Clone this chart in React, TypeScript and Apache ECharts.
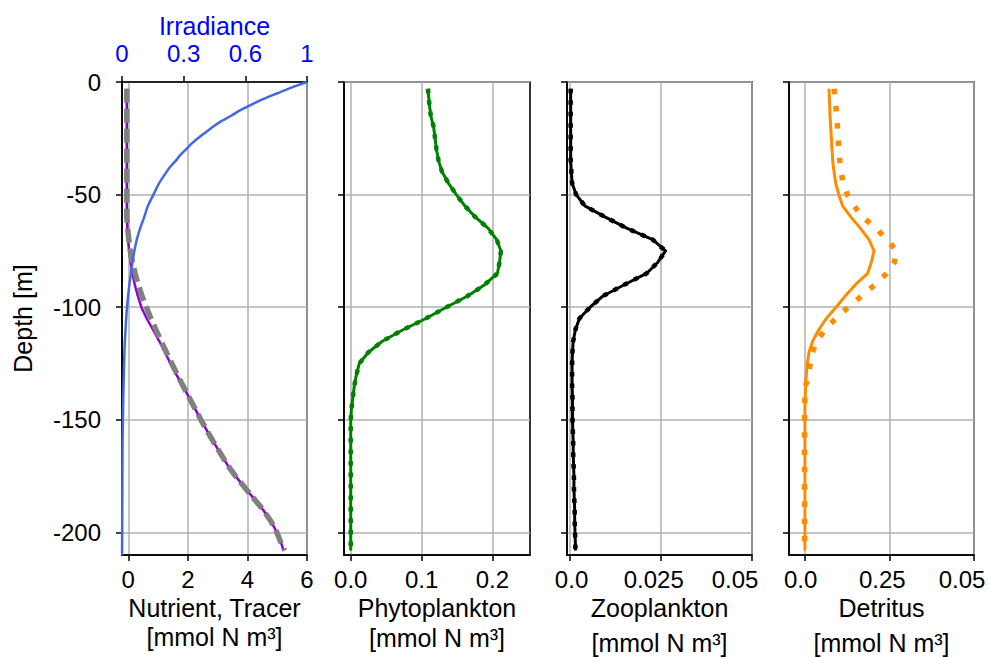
import React, { useEffect, useRef } from "react";
import * as echarts from "echarts";

// ---------- data ----------
const depth = [
  -3, -10, -15, -20, -25, -30, -35, -40, -45, -50, -55, -60, -65, -70, -75, -80, -85, -90, -95, -100,
  -105, -110, -115, -120, -125, -130, -135, -140, -145, -150, -155, -160, -165, -170, -175, -180, -185,
  -190, -195, -200, -205, -208,
];

const nutrient = [
  -0.05, -0.05, -0.05, -0.05, -0.05, -0.05, -0.05, -0.05, -0.05, -0.05, -0.05, -0.04, -0.03, -0.01, 0.03,
  0.08, 0.14, 0.22, 0.32, 0.44, 0.62, 0.83, 1.04, 1.23, 1.42, 1.62, 1.83, 2.04, 2.24, 2.44, 2.65, 2.87,
  3.1, 3.33, 3.6, 3.91, 4.22, 4.53, 4.79, 4.99, 5.14, 5.21,
];

const tracer = [
  -0.05, -0.05, -0.05, -0.05, -0.05, -0.05, -0.05, -0.05, -0.05, -0.05, -0.05, -0.05, -0.02, 0.02, 0.07,
  0.14, 0.23, 0.34, 0.46, 0.61, 0.76, 0.93, 1.1, 1.28, 1.46, 1.65, 1.84, 2.04, 2.24, 2.44, 2.65, 2.87,
  3.1, 3.33, 3.6, 3.91, 4.22, 4.53, 4.79, 4.99, 5.14, 5.25,
];

const phyto = [
  0.109, 0.111, 0.113, 0.117, 0.119, 0.121, 0.124, 0.129, 0.138, 0.149, 0.161, 0.176, 0.194, 0.206, 0.212,
  0.21, 0.207, 0.189, 0.165, 0.135, 0.106, 0.074, 0.045, 0.025, 0.012, 0.008, 0.005, 0.003, 0.001, 0, 0,
  0, 0, 0, 0, 0, 0, 0, 0, 0, 0, 0,
];

const zoo = [
  0.0003, 0.0003, 0.0003, 0.0003, 0.0003, 0.0003, 0.0003, 0.0005, 0.0007, 0.0018, 0.0042, 0.0098, 0.0158,
  0.0228, 0.0263, 0.0242, 0.0211, 0.015, 0.0092, 0.0056, 0.0027, 0.0016, 0.001, 0.0008, 0.0007, 0.0007,
  0.0007, 0.0008, 0.0008, 0.0008, 0.0009, 0.001, 0.001, 0.0011, 0.0012, 0.0012, 0.0013, 0.0014, 0.0014,
  0.0015, 0.0016, 0.0016,
];

const detritus = [
  0.072, 0.074, 0.075, 0.077, 0.079, 0.081, 0.083, 0.087, 0.092, 0.101, 0.112, 0.137, 0.165, 0.19, 0.205,
  0.197, 0.186, 0.15, 0.12, 0.093, 0.064, 0.042, 0.024, 0.013, 0.008, 0.005, 0.003, 0.002, 0.001, 0.001,
  0.001, 0.001, 0.001, 0.001, 0.001, 0.001, 0.001, 0.001, 0.001, 0.001, 0.001, 0.001,
];

const detritusTracer = [
  0.087, 0.092, 0.095, 0.097, 0.099, 0.101, 0.104, 0.108, 0.114, 0.126, 0.146, 0.172, 0.211, 0.243, 0.272,
  0.265, 0.242, 0.208, 0.168, 0.129, 0.092, 0.06, 0.036, 0.023, 0.017, 0.011, 0.003, 0.001, 0, 0, 0, 0, 0,
  0, 0, 0, 0, 0, 0, 0, 0, 0,
];

const irrDepth = [
  0, -2.5, -5, -7.5, -10, -12.5, -15, -17.5, -20, -22.5, -25, -27.5, -30, -32.5, -35, -37.5, -40, -45, -50,
  -55, -60, -65, -70, -75, -80, -90, -100, -110, -120, -140, -160, -180, -210,
];
const irradiance = [
  1.0, 0.915, 0.84, 0.765, 0.7, 0.64, 0.59, 0.535, 0.49, 0.45, 0.41, 0.375, 0.345, 0.315, 0.29, 0.262, 0.24,
  0.2, 0.17, 0.14, 0.12, 0.098, 0.08, 0.067, 0.057, 0.04, 0.027, 0.019, 0.013, 0.007, 0.003, 0.002, 0.0005,
];

// tick values and labels
const depthTicks = [0, -50, -100, -150, -200];
const depthTickLabels = ["0", "-50", "-100", "-150", "-200"];
const nutrientTicks = [0, 2, 4, 6];
const nutrientTickLabels = ["0", "2", "4", "6"];
const irrTicks = [0, 1 / 3, 2 / 3, 1];
const irrTickLabels = ["0", "0.3", "0.6", "1"];
const phytoTicks = [0, 0.1, 0.2];
const phytoTickLabels = ["0.0", "0.1", "0.2"];
const zooTicks = [0, 0.025, 0.05];
const zooTickLabels = ["0.0", "0.025", "0.05"];
const detTicks = [0, 0.25, 0.5];
const detTickLabels = ["0.0", "0.25", "0.05"];

// ---------- styles / layout ----------
const FONT = "'Liberation Sans', Arial, Helvetica, sans-serif";
const GRID_COLOR = "#b0b0b0";
const TICK_FS = 24;
const NAME_FS = 25;
const TOP = 82;
const HEIGHT = 473;
const panels = [
  { left: 122, width: 185 },
  { left: 344, width: 186 },
  { left: 567, width: 185 },
  { left: 789, width: 185 },
];

const nearestIdx = (ticks: number[], v: number) => {
  let best = 0;
  for (let i = 1; i < ticks.length; i++) {
    if (Math.abs(ticks[i] - v) < Math.abs(ticks[best] - v)) best = i;
  }
  return best;
};

const makeRich = (shifts: number[]) => {
  const rich: any = {};
  shifts.forEach((s, i) => {
    rich["s" + i] = {
      fontSize: TICK_FS,
      fontFamily: FONT,
      color: "#000",
      padding: [0, s < 0 ? -2 * s : 0, 0, s > 0 ? 2 * s : 0],
    };
  });
  return rich;
};

const xAxisBottom = (
  gridIndex: number,
  min: number,
  max: number,
  ticks: number[],
  labels: string[],
  name: string,
  nameGap: number,
  lineHeight: number,
  shifts?: number[]
) => ({
  type: "value",
  gridIndex,
  position: "bottom",
  min,
  max,
  axisLine: { show: true, onZero: false, lineStyle: { color: "#000", width: 1.6 } },
  axisTick: { show: true, inside: false, length: 6, customValues: ticks, lineStyle: { color: "#000", width: 1.5 } },
  axisLabel: {
    show: true,
    customValues: ticks,
    margin: 12,
    fontSize: TICK_FS,
    fontFamily: FONT,
    color: "#000",
    formatter: (v: number) => {
      const i = nearestIdx(ticks, v);
      return shifts ? `{s${i}|${labels[i]}}` : labels[i];
    },
    rich: shifts ? makeRich(shifts) : undefined,
  },
  splitLine: { show: true, lineStyle: { color: GRID_COLOR, width: 1.5 } },
  name,
  nameLocation: "middle",
  nameGap,
  nameMoveOverlap: false,
  nameTextStyle: { fontSize: NAME_FS, fontFamily: FONT, color: "#000", lineHeight },
});

const yAxisFor = (gridIndex: number, showLabels: boolean) => ({
  type: "value",
  gridIndex,
  min: -210,
  max: 0,
  axisLine: { show: true, onZero: false, lineStyle: { color: "#000", width: 1.6 } },
  axisTick: { show: true, inside: false, length: 6, customValues: depthTicks, lineStyle: { color: "#000", width: 1.5 } },
  axisLabel: {
    show: showLabels,
    customValues: depthTicks,
    margin: 21,
    fontSize: TICK_FS,
    fontFamily: FONT,
    color: "#000",
    formatter: (v: number) => depthTickLabels[nearestIdx(depthTicks, v)],
  },
  splitLine: { show: true, lineStyle: { color: GRID_COLOR, width: 1.5 } },
  ...(showLabels
    ? {
        name: "Depth [m]",
        nameLocation: "middle",
        nameGap: 87,
        nameMoveOverlap: false,
        nameTextStyle: { fontSize: NAME_FS, fontFamily: FONT, color: "#000" },
      }
    : {}),
});

const pairs = (vals: number[], ds: number[]) => ds.map((d, i) => [vals[i], d]);

const lineSeries = (xAxisIndex: number, yAxisIndex: number, data: number[][], lineStyle: any) => ({
  type: "line",
  xAxisIndex,
  yAxisIndex,
  data,
  symbol: "none",
  showSymbol: false,
  silent: true,
  lineStyle: { cap: "butt", join: "round", ...lineStyle },
});

export default function App() {
  const ref = useRef<HTMLDivElement>(null);
  useEffect(() => {
    if (!ref.current) return;
    const chart = echarts.init(ref.current, null, { renderer: "svg" });
    const option: any = {
      animation: false,
      backgroundColor: "#fff",
      textStyle: { fontFamily: FONT },
      grid: panels.map((p) => ({
        left: p.left,
        top: TOP,
        width: p.width,
        height: HEIGHT,
        show: true,
        borderColor: "#000",
        borderWidth: 1.6,
        backgroundColor: "transparent",
        containLabel: false,
        outerBoundsMode: "none",
      })),
      xAxis: [
        xAxisBottom(0, -0.21, 6, nutrientTicks, nutrientTickLabels, "Nutrient, Tracer\n[mmol N m³]", 38, 29),
        {
          type: "value",
          gridIndex: 0,
          position: "top",
          min: 0,
          max: 1,
          axisLine: { show: true, onZero: false, lineStyle: { color: "#000", width: 1.6 } },
          axisTick: { show: true, inside: false, length: 6, customValues: irrTicks, lineStyle: { color: "#000", width: 1.5 } },
          axisLabel: {
            show: true,
            customValues: irrTicks,
            margin: 17,
            fontSize: TICK_FS,
            fontFamily: FONT,
            color: "#0000ff",
            formatter: (v: number) => irrTickLabels[nearestIdx(irrTicks, v)],
          },
          splitLine: { show: false },
          name: "Irradiance",
          nameLocation: "middle",
          nameGap: 44,
          nameMoveOverlap: false,
          nameTextStyle: { fontSize: NAME_FS, fontFamily: FONT, color: "#0000ff" },
        },
        xAxisBottom(1, -0.0095, 0.253, phytoTicks, phytoTickLabels, "Phytoplankton\n[mmol N m³]", 38, 30),
        xAxisBottom(2, -0.0007, 0.05, zooTicks, zooTickLabels, "Zooplankton\n[mmol N m³]", 35, 35, [2, -7, -17]),
        xAxisBottom(3, -0.046, 0.5, detTicks, detTickLabels, "Detritus\n[mmol N m³]", 35, 35, [-4, -7, -12]),
      ],
      yAxis: [yAxisFor(0, true), yAxisFor(1, false), yAxisFor(2, false), yAxisFor(3, false)],
      series: [
        lineSeries(0, 0, pairs(nutrient, depth), { color: "#9400d3", width: 2.5 }),
        lineSeries(0, 0, pairs(tracer, depth), { color: "#808080", width: 5.5, type: [14, 6] }),
        { ...lineSeries(1, 0, pairs(irradiance, irrDepth), { color: "#4169e1", width: 2.5 }), smooth: 0.2 },
        lineSeries(2, 1, pairs(phyto, depth), { color: "#008000", width: 3 }),
        lineSeries(2, 1, pairs(phyto, depth), { color: "#008000", width: 4.5, type: [4.5, 7] }),
        lineSeries(3, 2, pairs(zoo, depth), { color: "#000000", width: 3 }),
        lineSeries(3, 2, pairs(zoo, depth), { color: "#000000", width: 4.5, type: [4.5, 7] }),
        lineSeries(4, 3, pairs(detritus, depth), { color: "#ff8c00", width: 3 }),
        lineSeries(4, 3, pairs(detritusTracer, depth), { color: "#ff8c00", width: 5.5, type: [5.5, 11.8] }),
      ],
    };
    chart.setOption(option);
    return () => chart.dispose();
  }, []);
  return <div ref={ref} style={{ position: "absolute", left: 0, top: 0, width: 989, height: 657 }} />;
}
